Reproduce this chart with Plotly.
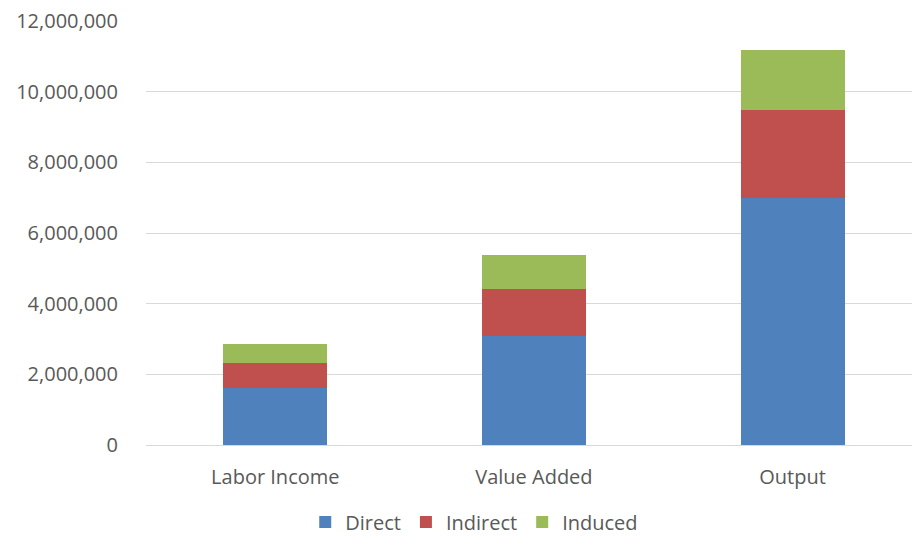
import plotly.graph_objects as go

categories = ["Labor Income", "Value Added", "Output"]
direct = [1600000, 3090000, 7000000]
indirect = [718000, 1325000, 2485000]
induced = [527000, 961000, 1705000]
y_ticks = [0, 2000000, 4000000, 6000000, 8000000, 10000000, 12000000]

series = [("Direct", direct, "#4F81BD"),
          ("Indirect", indirect, "#C0504D"),
          ("Induced", induced, "#9BBB59")]

fig = go.Figure()
for name, vals, color in series:
    fig.add_trace(go.Bar(x=categories, y=vals, name=name,
                         marker=dict(color=color, line=dict(width=0)),
                         width=0.402))

font = dict(family="Open Sans", size=20, color="#595959")
fig.update_layout(
    barmode="stack",
    width=912, height=537,
    margin=dict(l=146, r=0, t=21, b=92),
    paper_bgcolor="white", plot_bgcolor="white",
    font=font,
    showlegend=True,
    legend=dict(orientation="h", xref="container", yref="container",
                x=0.52, xanchor="center", y=0.028, yanchor="middle",
                font=font, traceorder="normal", itemwidth=30,
                borderwidth=0),
    xaxis=dict(range=[-0.5, 2.462], showgrid=False, showline=False,
               ticks="", ticklabelstandoff=18, tickfont=font, fixedrange=True),
    yaxis=dict(range=[0, 12000000], tickvals=y_ticks,
               tickformat=",d", showgrid=True, gridcolor="#D9D9D9", gridwidth=1.3,
               zeroline=True, zerolinecolor="#D9D9D9", zerolinewidth=1.3,
               showline=False, ticks="", ticklabelstandoff=27, tickfont=font),
)

fig.write_html("out.html")
